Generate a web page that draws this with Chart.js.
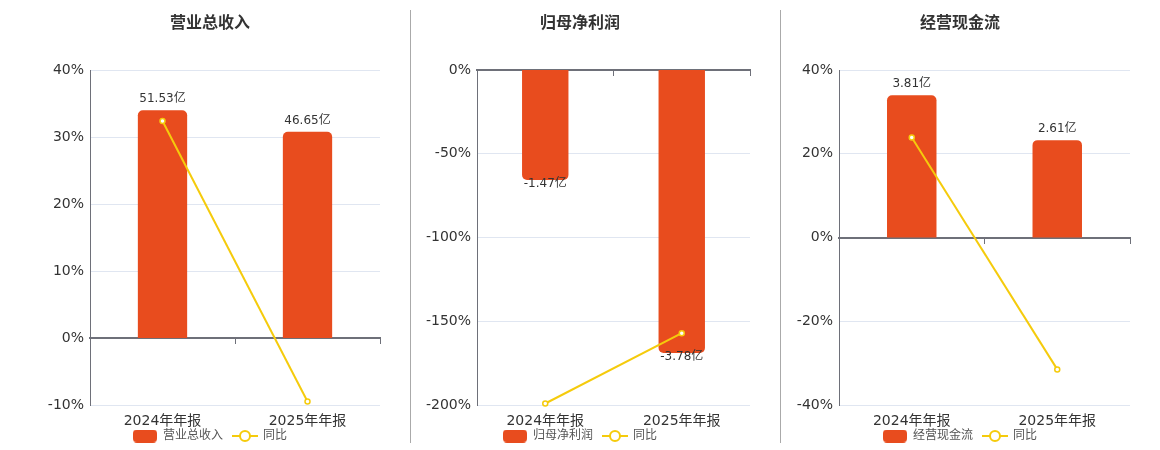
<!DOCTYPE html>
<html>
<head>
<meta charset="utf-8">
<script src="https://cdn.jsdelivr.net/npm/chart.js@4.4.1/dist/chart.umd.min.js"></script>
<style>
  body { margin: 0; width: 1160px; height: 450px; overflow: hidden; background: #fff; position: relative; }
  .panel { position: absolute; top: 0; height: 450px; width: 360px; }
  .divider { position: absolute; top: 10px; height: 433px; width: 1px; background: #aaa; }
</style>
</head>
<body>
<div class="panel" style="left:30px"><canvas id="revenueChart"></canvas></div>
<div class="divider" style="left:410px"></div>
<div class="panel" style="left:400px"><canvas id="profitChart"></canvas></div>
<div class="divider" style="left:780px"></div>
<div class="panel" style="left:780px"><canvas id="cashChart"></canvas></div>
<script>
// Data
const categories = ['2024年年报', '2025年年报'];

const revenue = [51.53, 46.65];          // 亿
const revenueYoY = [32.4, -9.47];         // %
const netProfit = [-1.47, -3.78];
const netProfitYoY = [-199.1, -157.14];
const cashFlow = [3.81, 2.61];
const cashFlowYoY = [23.9, -31.5];

// percent axis ranges and steps
const revenueRange = [-10, 40];
const netProfitRange = [-200, 0];
const cashFlowRange = [-40, 40];
const revenueStep = 10;
const netProfitStep = 50;
const cashFlowStep = 20;

// hidden axis for the bar amounts
const revenueBarRange = [-15.16, 60.62];
const netProfitBarRange = [-4.476, 0];
const cashFlowBarRange = [-4.49, 4.49];

const BAR = '#E84C1E';
const LINE = '#F5CB0C';
const AXIS = '#6E7079';
const GRID = '#E0E6F1';

Chart.defaults.font.family = "'DejaVu Sans', 'Noto Sans CJK SC', sans-serif";

// legend icons
function makeBarIcon() {
    const c = document.createElement('canvas');
    c.width = 24; c.height = 13;
    const g = c.getContext('2d');
    g.fillStyle = BAR;
    g.beginPath();
    g.roundRect(0, 0, 24, 13, 4);
    g.fill();
    return c;
}
function makeLineIcon() {
    const c = document.createElement('canvas');
    c.width = 26; c.height = 14;
    const g = c.getContext('2d');
    g.strokeStyle = LINE;
    g.lineWidth = 2;
    g.beginPath();
    g.moveTo(0, 7); g.lineTo(26, 7);
    g.stroke();
    g.beginPath();
    g.arc(13, 7, 5, 0, Math.PI * 2);
    g.fillStyle = '#fff';
    g.fill();
    g.stroke();
    return c;
}
const barIcon = makeBarIcon();
const lineIcon = makeLineIcon();

// amount labels on the bars
const barLabels = {
    id: 'barLabels',
    afterDatasetsDraw(chart) {
        const meta = chart.getDatasetMeta(0);
        const values = chart.data.datasets[0].data;
        const ctx = chart.ctx;
        ctx.save();
        ctx.font = "12px 'DejaVu Sans', 'Noto Sans CJK SC', sans-serif";
        ctx.fillStyle = '#333';
        ctx.textAlign = 'center';
        ctx.textBaseline = 'middle';
        meta.data.forEach((bar, i) => {
            const v = values[i];
            const y = v >= 0 ? bar.y - 11 : bar.y + 4;
            ctx.fillText(v.toFixed(2) + '亿', bar.x, y);
        });
        ctx.restore();
    }
};

function makeChart(canvasId, title, bars, yoy, range, step, barRange, axisWidth) {
    new Chart(document.getElementById(canvasId), {
        type: 'bar',
        data: {
            labels: categories,
            datasets: [{
                type: 'bar',
                label: title,
                data: bars,
                yAxisID: 'y1',
                xAxisID: 'x',
                backgroundColor: BAR,
                borderRadius: 5,
                barPercentage: 0.34,
                categoryPercentage: 1,
                order: 2
            }, {
                type: 'line',
                label: '同比',
                data: yoy,
                yAxisID: 'y',
                xAxisID: 'x',
                borderColor: LINE,
                borderWidth: 2,
                pointRadius: 2.5,
                pointBorderWidth: 1.5,
                pointBackgroundColor: '#fff',
                pointBorderColor: LINE,
                tension: 0,
                clip: false,
                order: 1
            }]
        },
        options: {
            responsive: true,
            maintainAspectRatio: false,
            animation: false,
            layout: { padding: { left: 10, right: 10, top: 0, bottom: -2 } },
            plugins: {
                title: {
                    display: true,
                    text: title,
                    color: '#333',
                    font: { size: 16, weight: 'bold' },
                    padding: { top: 14, bottom: 36.8 }
                },
                legend: {
                    position: 'bottom',
                    labels: {
                        usePointStyle: true,
                        pointStyleWidth: 24,
                        boxHeight: 12,
                        padding: 10,
                        color: '#555',
                        font: { size: 12 },
                        sort: (a, b) => a.datasetIndex - b.datasetIndex,
                        generateLabels(chart) {
                            const items = Chart.defaults.plugins.legend.labels.generateLabels(chart);
                            items.forEach(it => { it.pointStyle = it.datasetIndex === 0 ? barIcon : lineIcon; });
                            return items;
                        }
                    }
                },
                tooltip: { enabled: false }
            },
            scales: {
                x: {
                    offset: true,
                    grid: { display: false },
                    border: { display: false },
                    // mirror switches off the label clip; the negative padding puts the labels back below the plot
                    ticks: { color: '#333', font: { size: 14 }, padding: -25, mirror: true },
                    afterFit: s => { s.height = 15; }
                },
                x2: {
                    type: 'category',
                    axis: 'x',
                    labels: categories,
                    position: { y: 0 },
                    offset: true,
                    grid: { offset: true, drawOnChartArea: false, drawTicks: true, tickLength: 5, color: AXIS },
                    border: { color: AXIS, width: 2 },
                    ticks: { display: false }
                },
                y: {
                    min: range[0],
                    max: range[1],
                    ticks: { stepSize: step, color: '#333', font: { size: 14 }, padding: 6, callback: v => v + '%' },
                    grid: { color: GRID, drawTicks: false },
                    border: { color: AXIS, width: 1 },
                    afterFit: s => { s.width = axisWidth; }
                },
                y1: {
                    display: false,
                    min: barRange[0],
                    max: barRange[1]
                }
            }
        },
        plugins: [barLabels]
    });
}

makeChart('revenueChart', '营业总收入', revenue, revenueYoY, revenueRange, revenueStep, revenueBarRange, 50);
makeChart('profitChart', '归母净利润', netProfit, netProfitYoY, netProfitRange, netProfitStep, netProfitBarRange, 67);
makeChart('cashChart', '经营现金流', cashFlow, cashFlowYoY, cashFlowRange, cashFlowStep, cashFlowBarRange, 49);
</script>
</body>
</html>
